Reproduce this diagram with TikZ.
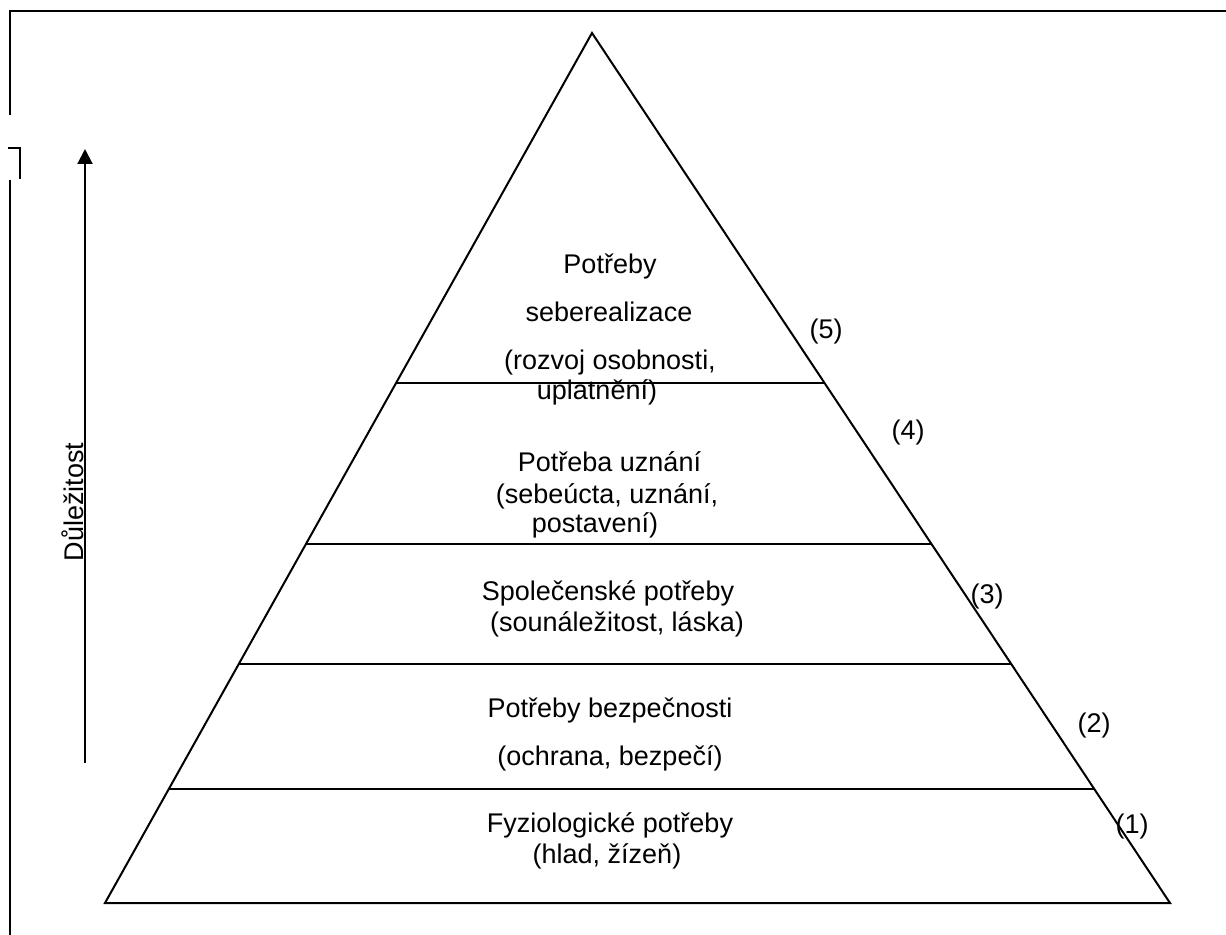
\documentclass[tikz,border=0pt]{standalone}
\usepackage{fontspec}
\setmainfont{Liberation Sans}
\usetikzlibrary{arrows.meta,calc}
\tikzset{
  tiertext/.style={anchor=base, inner sep=0pt, font=\fontsize{13.5}{16}\selectfont},
  numtext/.style={tiertext},
}
\begin{document}
\begin{tikzpicture}[x=0.5pt,y=-0.5pt,line width=1pt,>={Triangle[length=7.5pt,width=7.5pt]}]
        \useasboundingbox (0,0) rectangle (1226,935);
        % frame
        \draw[line width=1.3pt] (10,115) -- (10,11) -- (1226,11);
        \draw (8,148) -- (20,148) -- (20,179);
        \draw (10,180) -- (10,935);
        % pyramid
        \coordinate (top) at (592,33);
        \coordinate (bl) at (105,903);
        \coordinate (br) at (1170,903);
        \draw (top) -- (bl) -- (br) -- cycle;
        \foreach \t in {0.4023,0.5874,0.7253,0.869}
          \draw ($(top)!\t!(bl)$) -- ($(top)!\t!(br)$);
        % tiers
        \node[tiertext] (selfA) at (610,274) {Potřeby};
        \node[tiertext] (selfB) at (609,322) {seberealizace};
        \node[tiertext] (selfC) at (610,370) {(rozvoj osobnosti,};
        \node[tiertext] (selfD) at (597,400) {uplatnění)};
        \node[tiertext] (esteemA) at (609.5,472) {Potřeba uznání};
        \node[tiertext] (esteemB) at (607,503) {(sebeúcta, uznání,};
        \node[tiertext] (esteemC) at (595,532) {postavení)};
        \node[tiertext] (socialA) at (608,600) {Společenské potřeby};
        \node[tiertext] (socialB) at (617,631) {(sounáležitost, láska)};
        \node[tiertext] (safetyA) at (610,717) {Potřeby bezpečnosti};
        \node[tiertext] (safetyB) at (610,765) {(ochrana, bezpečí)};
        \node[tiertext] (physA) at (610,832) {Fyziologické potřeby};
        \node[tiertext] (physB) at (607,863) {(hlad, žízeň)};
        % numbers
        \foreach \n/\x/\y in {5/826/339, 4/908/440, 3/987/603, 2/1094/732, 1/1132/833}
          \node[numtext] (num\n) at (\x,\y) {(\n)};
        % importance axis
        \coordinate (low) at (85,763);
        \coordinate (high) at (85,149);
        \draw[->] (low) -- (high);
        \node[tiertext, rotate=90] (axis) at (83,502) {Důležitost};
      \end{tikzpicture}
\end{document}
